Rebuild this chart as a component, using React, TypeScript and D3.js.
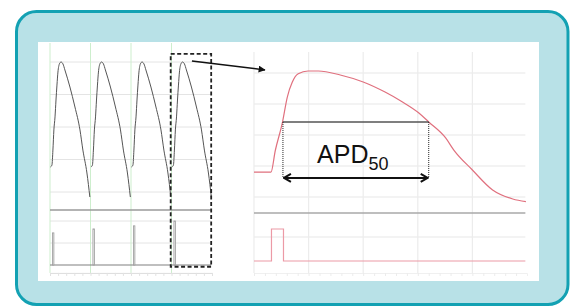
import React, { useEffect, useRef } from 'react'
import * as d3 from 'd3'

// Left panel: paced train of action potentials (ms, mV)
const beatStarts = [12, 262, 512, 762]
const apTemplateT = [-9, 0, 6, 12, 19, 25, 31, 37, 46, 56, 68, 80, 111, 142, 173, 191, 216, 234]
const apTemplateV = [-24.6, -23.4, -14.2, -1.8, 6.2, 16.6, 25.8, 33.8, 38.8, 40, 38.8, 35.1, 24.6, 12.3, -1.8, -14.2, -28.3, -43.1]
const stimAmplitudes = [0.73, 0.82, 0.89, 1.0]
const stimOnset = 3
const stimWidth = 9
const leftGridT = [0, 250, 500, 750]
const leftGridV = [40, 20, 0, -20, -40]
const leftStimGrid = [0.5, 1]
const zoomWindow = [745, 995]

// Right panel: single zoomed action potential
const rightT = [0, 15.5, 19.5, 26, 30.5, 35, 40.5, 49.5, 59, 79, 100, 120, 136, 151, 160, 175.5, 183, 200, 218.5, 237, 249]
const rightV = [-24, -24, -10, 8, 24.5, 34, 39.5, 41.3, 41.3, 38.7, 34.2, 27.7, 21.3, 14.2, 8.4, -1.9, -9.7, -22.6, -35.5, -41.3, -43]
const rightGridT = [0, 50, 100, 150, 200]
const rightGridV = [40, 20, 0, -20, -40]
const rightStimGrid = [0.75]
const pulse = [16, 27]
const apd50 = { start: 26.5, end: 160, level: 8.4, arrowLevel: -27.7 }

const W = 575
const H = 307

export default function App() {
  const ref = useRef<SVGSVGElement>(null)

  useEffect(() => {
    if (!ref.current) return
    const svg = d3.select(ref.current)
    svg.selectAll('*').remove()

    const defs = svg.append('defs')
    defs.append('marker')
      .attr('id', 'tri')
      .attr('viewBox', '0 0 10 10')
      .attr('refX', 9).attr('refY', 5)
      .attr('markerWidth', 7).attr('markerHeight', 7)
      .attr('markerUnits', 'userSpaceOnUse')
      .attr('orient', 'auto')
      .append('path').attr('d', 'M0,0L10,5L0,10Z').attr('fill', '#111')
    defs.append('marker')
      .attr('id', 'chev')
      .attr('viewBox', '0 0 10 10')
      .attr('refX', 9).attr('refY', 5)
      .attr('markerWidth', 10).attr('markerHeight', 10)
      .attr('markerUnits', 'userSpaceOnUse')
      .attr('orient', 'auto-start-reverse')
      .append('path').attr('d', 'M2,1L9,5L2,9')
      .attr('fill', 'none').attr('stroke', '#111').attr('stroke-width', 2)

    // frame
    svg.append('rect')
      .attr('x', 16.5).attr('y', 11.5).attr('width', 551.5).attr('height', 293)
      .attr('rx', 20)
      .attr('fill', '#b8e1e7').attr('stroke', '#13a1b3').attr('stroke-width', 3)
    svg.append('rect')
      .attr('x', 38).attr('y', 42).attr('width', 501).attr('height', 239)
      .attr('fill', '#fff')

    // ---------- left panel ----------
    const xL = d3.scaleLinear().domain([0, 1000]).range([50, 212])
    const vL = d3.scaleLinear().domain([-40, 40]).range([192, 62])
    const sL = d3.scaleLinear().domain([0, 1]).range([265, 221])
    const gL = svg.append('g')
    const [l0, l1] = [xL(0), xL(995)]

    gL.selectAll('.hv').data(leftGridV).enter().append('line')
      .attr('x1', l0).attr('x2', l1)
      .attr('y1', d => vL(d)).attr('y2', d => vL(d))
      .attr('stroke', '#e4e4e4').attr('stroke-width', 1)
    gL.selectAll('.hs').data(leftStimGrid).enter().append('line')
      .attr('x1', l0).attr('x2', l1)
      .attr('y1', d => sL(d)).attr('y2', d => sL(d))
      .attr('stroke', '#e4e4e4').attr('stroke-width', 1)
    gL.selectAll('.gv').data(leftGridT).enter().append('line')
      .attr('x1', d => xL(d)).attr('x2', d => xL(d))
      .attr('y1', 43).attr('y2', sL(-0.18))
      .attr('stroke', '#cdeecd').attr('stroke-width', 1)

    const axL = gL.append('g')
      .attr('transform', `translate(0,${sL(-0.18)})`)
      .call(d3.axisBottom(xL).tickValues(d3.range(0, 1001, 50)).tickSize(3).tickFormat(() => ''))
    axL.select('.domain').attr('stroke', '#dcdcdc')
    axL.selectAll('line').attr('stroke', '#e2e2e2')

    gL.append('line')
      .attr('x1', l0).attr('x2', l1)
      .attr('y1', sL(1.25)).attr('y2', sL(1.25))
      .attr('stroke', '#9a9a9a').attr('stroke-width', 1.5)
    gL.append('line')
      .attr('x1', l0).attr('x2', l1)
      .attr('y1', sL(0)).attr('y2', sL(0))
      .attr('stroke', '#808080').attr('stroke-width', 1.2)

    const lineL = d3.line<[number, number]>()
      .x(d => xL(d[0])).y(d => vL(d[1]))
      .curve(d3.curveMonotoneX)
    beatStarts.forEach(b => {
      const pts = apTemplateT.map((t, i) => [b + t, apTemplateV[i]] as [number, number])
      gL.append('path').attr('d', lineL(pts))
        .attr('fill', 'none').attr('stroke', '#555').attr('stroke-width', 1)
    })
    gL.selectAll('.stim').data(beatStarts).enter().append('rect')
      .attr('x', d => xL(d + stimOnset))
      .attr('width', xL(stimWidth) - xL(0))
      .attr('y', (d, i) => sL(stimAmplitudes[i]))
      .attr('height', (d, i) => sL(0) - sL(stimAmplitudes[i]))
      .attr('fill', '#f2f2f2').attr('stroke', '#9a9a9a').attr('stroke-width', 0.8)

    // zoom window
    gL.append('rect')
      .attr('x', xL(zoomWindow[0])).attr('y', vL(45))
      .attr('width', xL(zoomWindow[1]) - xL(zoomWindow[0]))
      .attr('height', sL(-0.04) - vL(45))
      .attr('fill', 'none').attr('stroke', '#222').attr('stroke-width', 1.8)
      .attr('stroke-dasharray', '4,2.5')

    // ---------- right panel ----------
    const xR = d3.scaleLinear().domain([0, 250]).range([254, 527])
    const vR = d3.scaleLinear().domain([-40, 40]).range([197, 73])
    const sR = d3.scaleLinear().domain([0, 1]).range([261, 229])
    const gR = svg.append('g')
    const [r0, r1] = [xR(0), xR(248.5)]

    gR.selectAll('.hv').data(rightGridV).enter().append('line')
      .attr('x1', r0).attr('x2', r1)
      .attr('y1', d => vR(d)).attr('y2', d => vR(d))
      .attr('stroke', '#e8e8e8').attr('stroke-width', 1.2)
    gR.selectAll('.hs').data(rightStimGrid).enter().append('line')
      .attr('x1', r0).attr('x2', r1)
      .attr('y1', d => sR(d)).attr('y2', d => sR(d))
      .attr('stroke', '#e8e8e8').attr('stroke-width', 1.2)
    gR.selectAll('.gv').data(rightGridT).enter().append('line')
      .attr('x1', d => xR(d)).attr('x2', d => xR(d))
      .attr('y1', 52).attr('y2', sR(-0.375))
      .attr('stroke', '#ececec').attr('stroke-width', 1.2)

    const axR = gR.append('g')
      .attr('transform', `translate(0,${sR(-0.375)})`)
      .call(d3.axisBottom(xR).tickValues(d3.range(0, 249, 10)).tickSize(3).tickFormat(() => ''))
    axR.select('.domain').attr('stroke', '#f0f0f0')
    axR.selectAll('line').attr('stroke', '#ececec')

    gR.append('line')
      .attr('x1', r0).attr('x2', r1)
      .attr('y1', sR(1.5)).attr('y2', sR(1.5))
      .attr('stroke', '#a8a8a8').attr('stroke-width', 1.5)

    // stimulus
    const stimPts: [number, number][] = [
      [0, 0], [pulse[0], 0], [pulse[0], 1], [pulse[1], 1], [pulse[1], 0], [248.5, 0],
    ]
    gR.append('path')
      .attr('d', d3.line<[number, number]>().x(d => xR(d[0])).y(d => sR(d[1]))(stimPts))
      .attr('fill', 'none').attr('stroke', '#ec9aa6').attr('stroke-width', 1.2)

    // AP trace
    const lineR = d3.line<[number, number]>()
      .x(d => xR(d[0])).y(d => vR(d[1]))
      .curve(d3.curveMonotoneX)
    gR.append('path')
      .attr('d', lineR(rightT.map((t, i) => [t, rightV[i]] as [number, number])))
      .attr('fill', 'none').attr('stroke', '#e0707e').attr('stroke-width', 1.2)

    // APD50 bracket
    const ax0 = xR(apd50.start), ax1 = xR(apd50.end)
    gR.append('line')
      .attr('x1', ax0).attr('x2', ax1)
      .attr('y1', vR(apd50.level)).attr('y2', vR(apd50.level))
      .attr('stroke', '#555').attr('stroke-width', 1.6)
    ;[ax0, ax1].forEach(x => {
      gR.append('line')
        .attr('x1', x).attr('x2', x)
        .attr('y1', vR(apd50.level)).attr('y2', vR(apd50.arrowLevel))
        .attr('stroke', '#222').attr('stroke-width', 1)
        .attr('stroke-dasharray', '1,1')
    })
    gR.append('line')
      .attr('x1', ax0 + 1).attr('x2', ax1 - 1)
      .attr('y1', vR(apd50.arrowLevel)).attr('y2', vR(apd50.arrowLevel))
      .attr('stroke', '#111').attr('stroke-width', 2)
      .attr('marker-start', 'url(#chev)').attr('marker-end', 'url(#chev)')

    const label = gR.append('text')
      .attr('x', (ax0 + ax1) / 2 - 3)
      .attr('y', vR(apd50.level) + 41)
      .attr('text-anchor', 'middle')
      .attr('font-family', '"Liberation Sans", Arial, sans-serif')
      .attr('font-size', 25)
      .attr('fill', '#111')
    label.append('tspan').text('APD')
    label.append('tspan').attr('font-size', 18).attr('dy', 7).text('50')

    // connector arrow from zoom window to zoomed trace
    svg.append('line')
      .attr('x1', xL(876)).attr('y1', vL(40.6))
      .attr('x2', xR(10)).attr('y2', vR(42))
      .attr('stroke', '#111').attr('stroke-width', 1.5)
      .attr('marker-end', 'url(#tri)')
  }, [])

  return (
    <svg
      ref={ref}
      width={W}
      height={H}
      style={{ position: 'absolute', left: 0, top: 0, background: '#fff' }}
    />
  )
}
